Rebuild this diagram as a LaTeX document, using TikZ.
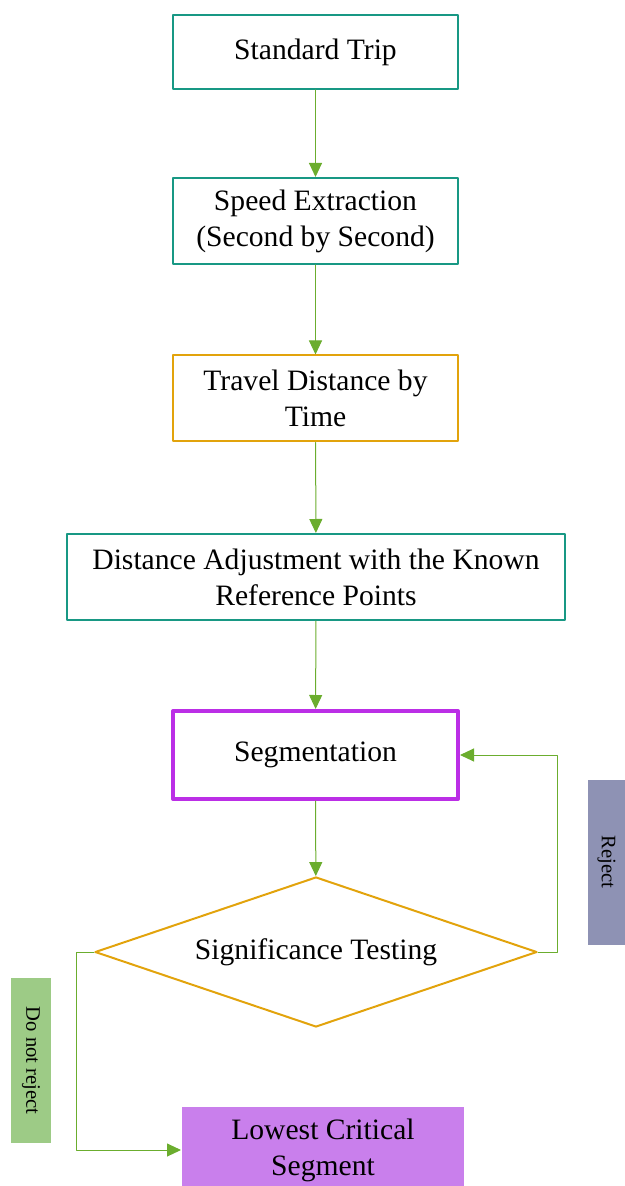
\documentclass[tikz,border=0pt]{standalone}
\usepackage{fontspec}
\setmainfont{Liberation Serif}
\usetikzlibrary{arrows.meta,shapes.geometric}
\definecolor{tealbox}{RGB}{24,152,132}
\definecolor{orangebox}{RGB}{226,163,12}
\definecolor{purplebox}{RGB}{187,46,230}
\definecolor{lowfill}{RGB}{201,127,236}
\definecolor{rejfill}{RGB}{142,146,180}
\definecolor{keepfill}{RGB}{157,203,134}
\definecolor{flowgreen}{RGB}{107,173,46}

\begin{document}
\begin{tikzpicture}[line cap=round,line join=round,>={Triangle[length=7pt,width=6.5pt]},x=0.5pt,y=-0.5pt,
    box/.style={draw=tealbox,line width=1pt,minimum width=142.5pt,minimum height=43pt,inner sep=2pt,align=center,font=\fontsize{14.8}{18}\selectfont},
    tag/.style={rotate=-90,minimum width=82.5pt,inner sep=0pt,font=\fontsize{10.3}{12}\selectfont},
    flow/.style={->,draw=flowgreen,line width=0.5pt}]
    \clip (0,0) rectangle (625,1186);
    \node[box,minimum height=37pt] (trip) at (315.5,52) {Standard Trip};
    \node[box] (speed) at (315.5,221) {Speed Extraction\\(Second by Second)};
    \node[box,draw=orangebox] (dist) at (315.5,398.5) {Travel Distance by\\Time};
    \node[box,minimum width=249pt] (adjust) at (316,577) {Distance Adjustment with the Known\\Reference Points};
    \node[box,draw=purplebox,line width=2pt,minimum height=44pt] (segm) at (315.5,755) {Segmentation};
    \node[draw=orangebox,line width=1pt,shape=diamond,aspect=2.95,inner sep=0pt,minimum width=221pt,minimum height=75pt,font=\fontsize{14.8}{18}\selectfont] (test) at (316,952) {Significance Testing};
    \node[box,draw=none,fill=lowfill,minimum width=141pt] (lowest) at (323,1150) {Lowest Critical\\Segment};
    \node[tag,fill=rejfill,minimum height=18.5pt] (reject) at (606.5,862) {Reject};
    \node[tag,fill=keepfill,minimum height=20pt] (keep) at (31,1060.5) {Do not reject};
    \coordinate (rturn) at (557,952);
    \coordinate (lturn) at (76,952);
    \draw[flow] (trip) -- (speed);
    \draw[flow] (speed) -- (dist);
    \draw[flow] (dist) -- (adjust);
    \draw[flow] (adjust) -- (segm);
    \draw[flow] (segm) -- (test);
    \draw[flow] (test.east) -- (rturn) |- (segm.east);
    \draw[flow] (test.west) -- (lturn) |- (lowest.west);
\end{tikzpicture}
\end{document}
